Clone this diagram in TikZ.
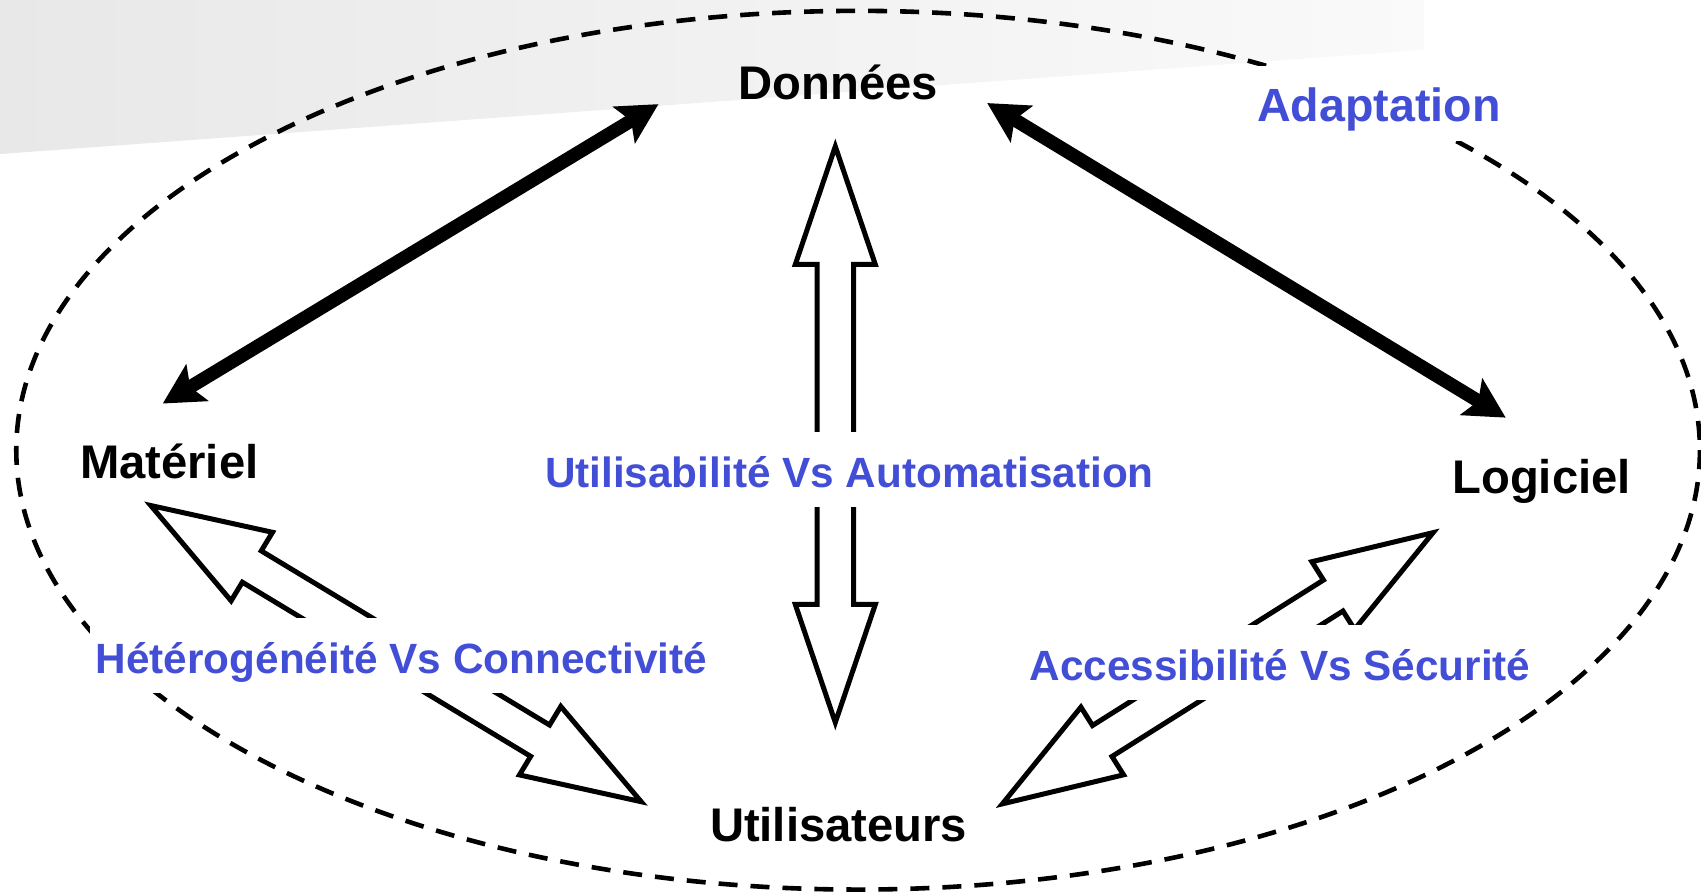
\documentclass[tikz,border=0pt]{standalone}
\usepackage{fontspec}
\setmainfont{Liberation Sans}
\usetikzlibrary{arrows.meta,calc}
\definecolor{lblblue}{RGB}{67,78,214}
\tikzset{
  mainlbl/.style={font=\fontsize{47.2}{54}\selectfont\bfseries, text=black, anchor=base, inner sep=0pt},
  bluelbl/.style={font=\fontsize{42.3}{50}\selectfont\bfseries, text=lblblue, anchor=base, fill=white,
     text height=48.8pt, text depth=13pt, inner xsep=5.4pt, inner ysep=6.5pt},
  thickarrow/.style={line width=13.5pt, {Stealth[length=40pt,width=42pt,inset=8pt]}-{Stealth[length=40pt,width=42pt,inset=8pt]}},
  blockarrow/.style={line width=5pt, line join=miter, miter limit=10, draw=black, fill=white},
  ellipsedash/.style={line width=4.6pt, dash pattern=on 19pt off 13pt},
}
\newcommand\dblblock[2]{%
  \filldraw[blockarrow] (#1)
   -- ($(#1)!118pt!(#2)!40pt!90:(#2)$)
   -- ($(#1)!118pt!(#2)!18.3pt!90:(#2)$)
   -- ($(#2)!118pt!(#1)!18.3pt!-90:(#1)$)
   -- ($(#2)!118pt!(#1)!40pt!-90:(#1)$)
   -- (#2)
   -- ($(#2)!118pt!(#1)!40pt!90:(#1)$)
   -- ($(#2)!118pt!(#1)!18.3pt!90:(#1)$)
   -- ($(#1)!118pt!(#2)!18.3pt!-90:(#2)$)
   -- ($(#1)!118pt!(#2)!40pt!-90:(#2)$)
   -- cycle;}
\begin{document}
\begin{tikzpicture}[x=1.0848pt,y=-1.0848pt]
\useasboundingbox (0,0) rectangle (1568,823);
% grey band
\shade[left color=black!9, right color=black!2] (0,0) -- (1312,0) -- (1312,46) -- (0,142) -- cycle;
% dashed ellipse
\draw[ellipsedash] (791,415) ellipse [x radius=776, y radius=405];
% tips
\coordinate (dmA) at (607,96);
\coordinate (dmB) at (150,372);
\coordinate (dlA) at (910,95);
\coordinate (dlB) at (1388,385);
\coordinate (duA) at (770,135);
\coordinate (duB) at (770,666);
\coordinate (muA) at (139,466);
\coordinate (muB) at (591,739);
\coordinate (luA) at (1321,491);
\coordinate (luB) at (924,741);
% thick arrows
\draw[thickarrow] (dmA) -- (dmB);
\draw[thickarrow] (dlA) -- (dlB);
% block arrows
\dblblock{duA}{duB}
\dblblock{muA}{muB}
\dblblock{luA}{luB}
% blue labels
\node[bluelbl] (usab) at (783,449) {Utilisabilité Vs Automatisation};
\node[bluelbl] (hetero) at (370,621) {Hétérogénéité Vs Connectivité};
\node[bluelbl] (access) at (1180,627) {Accessibilité Vs Sécurité};
\node[bluelbl, font=\fontsize{46.6}{54}\selectfont\bfseries] (adapt) at (1271,112) {Adaptation};
% black labels
\node[mainlbl] (donnees) at (773,92) {Données};
\node[mainlbl] (materiel) at (156,441) {Matériel};
\node[mainlbl] (logiciel) at (1421,455) {Logiciel};
\node[mainlbl] (utilis) at (773,776) {Utilisateurs};
\end{tikzpicture}
\end{document}
